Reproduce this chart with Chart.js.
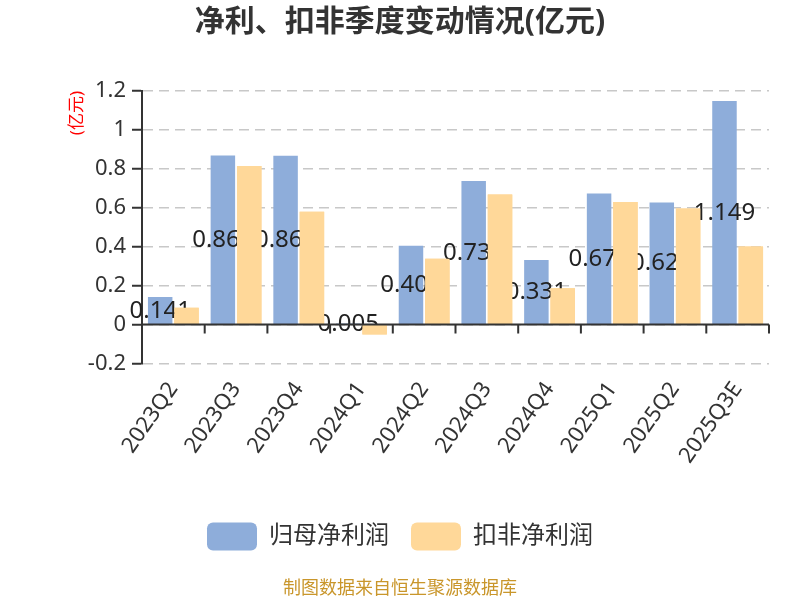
<!DOCTYPE html>
<html>
<head>
<meta charset="utf-8">
<script src="https://cdn.jsdelivr.net/npm/chart.js@4/dist/chart.umd.min.js"></script>
<style>
  html, body { margin: 0; padding: 0; background: #fff; }
  #wrap { width: 800px; height: 600px; }
</style>
</head>
<body>
<div id="wrap"><canvas id="myChart" width="800" height="600"></canvas></div>
<script>
// 季度数据 (亿元)
const categories = ['2023Q2', '2023Q3', '2023Q4', '2024Q1', '2024Q2', '2024Q3', '2024Q4', '2025Q1', '2025Q2', '2025Q3E'];
const netProfit = [0.141, 0.868, 0.867, 0.005, 0.405, 0.738, 0.331, 0.673, 0.627, 1.149];
const deductedProfit = [0.086, 0.815, 0.579, -0.051, 0.338, 0.668, 0.186, 0.629, 0.596, 0.401];
const yTicks = { min: -0.2, max: 1.2, step: 0.2 };

const FONT = '"Noto Sans", "Noto Sans CJK SC", sans-serif';

// labels of the first series; the second series is drawn again on top so it covers them
const barLabels = {
  id: 'barLabels',
  afterDatasetsDraw(chart) {
    const ctx = chart.ctx;
    const meta = chart.getDatasetMeta(0);
    ctx.save();
    ctx.font = '24px ' + FONT;
    ctx.fillStyle = '#222';
    ctx.textAlign = 'center';
    ctx.textBaseline = 'middle';
    meta.data.forEach((bar, i) => {
      ctx.fillText(String(netProfit[i]), bar.x, (bar.y + bar.base) / 2);
    });
    ctx.restore();
    chart.getDatasetMeta(1).controller.draw();

    // x axis line at zero with ticks between categories
    const area = chart.chartArea;
    const y0 = chart.scales.y.getPixelForValue(0);
    const step = (area.right - area.left) / categories.length;
    ctx.save();
    ctx.strokeStyle = '#333';
    ctx.lineWidth = 2;
    ctx.beginPath();
    ctx.moveTo(area.left, y0);
    ctx.lineTo(area.right, y0);
    for (let i = 1; i <= categories.length; i++) {
      const x = area.left + i * step;
      ctx.moveTo(x, y0);
      ctx.lineTo(x, y0 + 9);
    }
    ctx.stroke();
    ctx.restore();
  }
};

const ctx = document.getElementById('myChart').getContext('2d');
new Chart(ctx, {
  type: 'bar',
  data: {
    labels: categories,
    datasets: [{
      label: '归母净利润',
      data: netProfit,
      backgroundColor: '#8eadda',
      barPercentage: 0.93,
      categoryPercentage: 0.84
    }, {
      label: '扣非净利润',
      data: deductedProfit,
      backgroundColor: '#ffd899',
      barPercentage: 0.93,
      categoryPercentage: 0.84
    }]
  },
  options: {
    responsive: false,
    animation: false,
    layout: { padding: { left: 31, right: 31, top: 0, bottom: 0 } },
    plugins: {
      title: {
        display: true,
        text: '净利、扣非季度变动情况(亿元)',
        color: '#333',
        font: { family: FONT, size: 30, weight: 'bold' },
        padding: { top: 4, bottom: 51 }
      },
      legend: {
        position: 'bottom',
        labels: {
          boxWidth: 50,
          boxHeight: 28,
          useBorderRadius: true,
          borderRadius: 6,
          padding: 22,
          color: '#333',
          font: { family: FONT, size: 24 }
        }
      },
      subtitle: {
        display: true,
        position: 'bottom',
        text: '制图数据来自恒生聚源数据库',
        color: '#c9962b',
        font: { family: FONT, size: 18 },
        padding: { top: 18, bottom: 0 }
      },
      tooltip: { enabled: false }
    },
    scales: {
      x: {
        afterFit(scale) { scale.height = 137; },
        grid: { display: false },
        border: { display: false },
        ticks: {
          color: '#333',
          font: { family: FONT, size: 22 },
          minRotation: 55,
          maxRotation: 55,
          padding: 6
        }
      },
      y: {
        min: yTicks.min,
        max: yTicks.max,
        afterFit(scale) { scale.width = 111; },
        ticks: {
          stepSize: yTicks.step,
          color: '#333',
          font: { family: FONT, size: 22 },
          padding: 6,
          callback: v => String(Math.round(v * 10) / 10)
        },
        grid: {
          color: '#c8c8c8',
          lineWidth: 1.5,
          tickColor: '#333',
          tickWidth: 2,
          tickLength: 10,
          tickBorderDash: [],
          drawTicks: true
        },
        border: { color: '#333', width: 2, dash: [10, 6] },
        title: {
          display: true,
          text: '(亿元)',
          align: 'end',
          color: '#f00',
          font: { family: FONT, size: 17 },
          padding: { top: 36, bottom: 0 }
        }
      }
    }
  },
  plugins: [barLabels]
});
</script>
</body>
</html>
